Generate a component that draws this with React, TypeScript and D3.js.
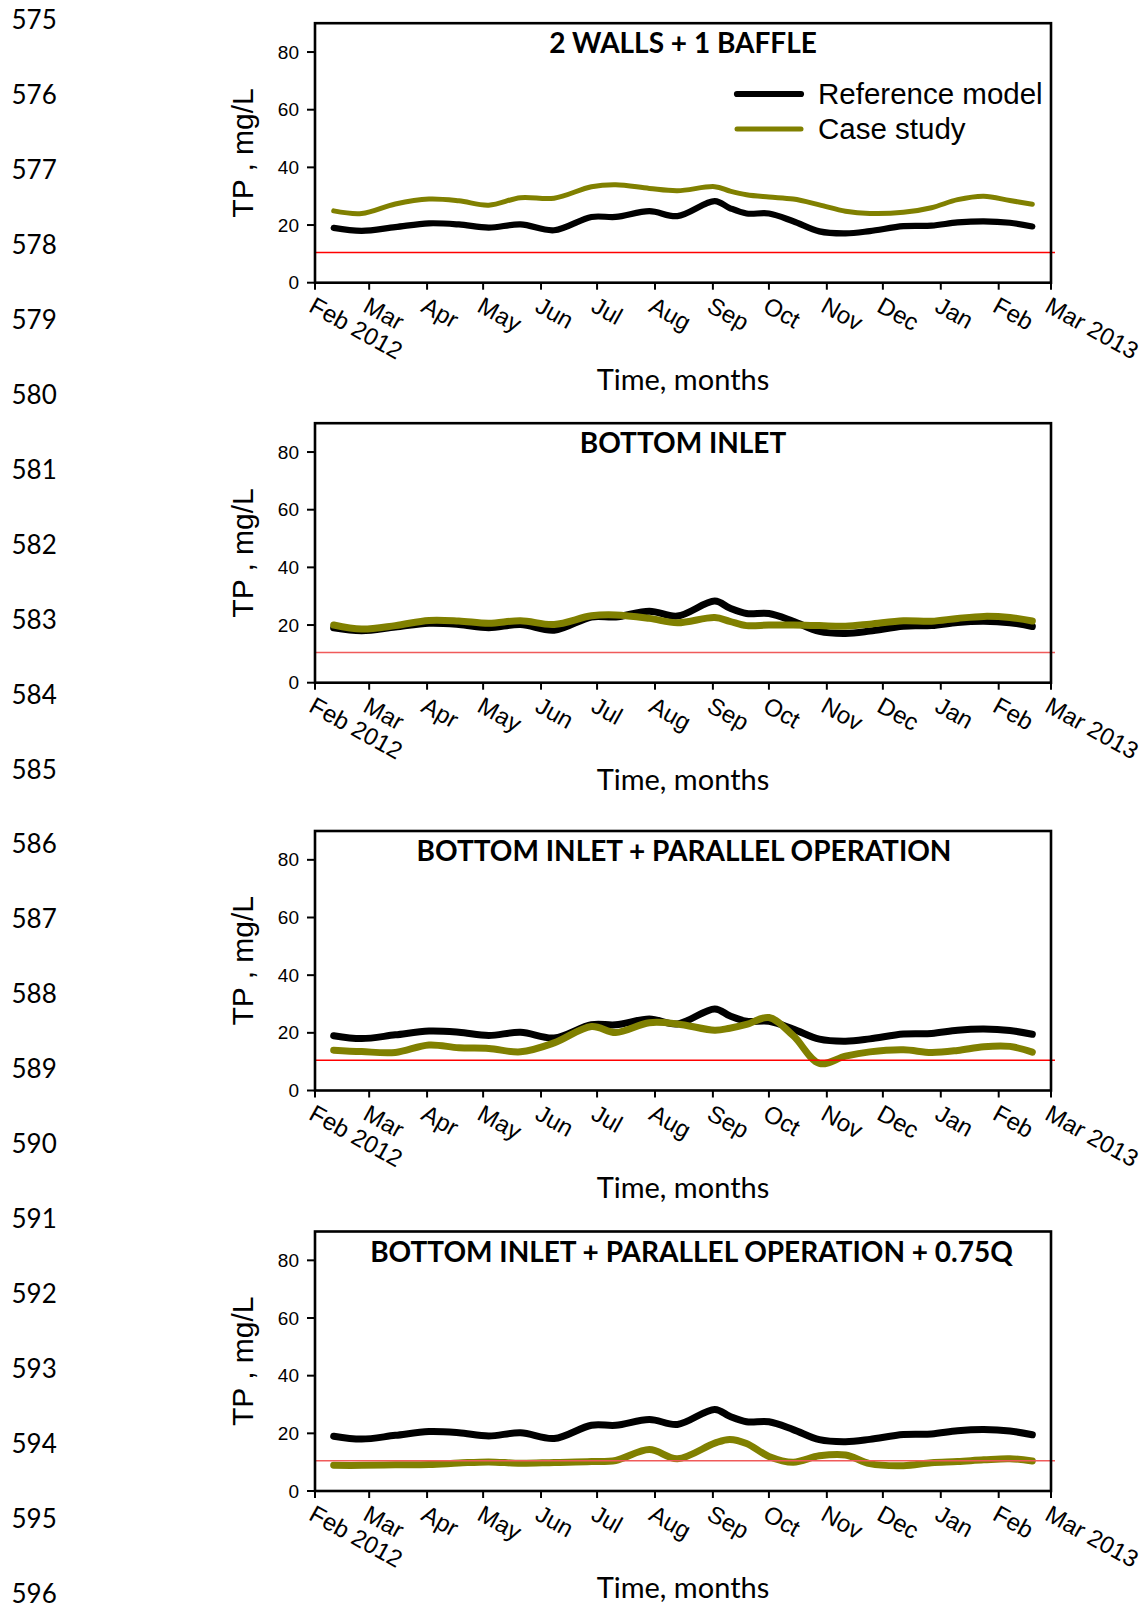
import React from "react";
import * as d3 from "d3";

// ---------- DATA ----------
const sampleDates = [
  "2012-02-11", "2012-02-26", "2012-03-15", "2012-04-02", "2012-04-18", "2012-05-04",
  "2012-05-21", "2012-06-08", "2012-06-28", "2012-07-11", "2012-07-29", "2012-08-13",
  "2012-09-02", "2012-09-10", "2012-09-19", "2012-10-01", "2012-10-14", "2012-10-28",
  "2012-11-11", "2012-11-24", "2012-12-12", "2012-12-27", "2013-01-10", "2013-01-24",
  "2013-02-07", "2013-02-19",
];
const referenceModel = [
  19.0, 18.0, 19.3, 20.6, 20.2, 19.1, 20.2, 18.2, 22.8, 22.8, 24.8, 23.1, 28.3, 25.9,
  24.0, 24.0, 21.3, 17.8, 17.1, 17.9, 19.6, 19.8, 20.9, 21.3, 20.8, 19.5,
];
const caseWallsBaffle = [
  24.9, 24.0, 27.3, 29.0, 28.4, 26.9, 29.5, 29.3, 33.3, 34.0, 32.7, 31.9, 33.3, 31.8,
  30.5, 29.7, 29.0, 27.0, 24.8, 24.0, 24.4, 26.0, 28.8, 30.0, 28.5, 27.2,
];
const caseBottomInlet = [
  20.0, 18.6, 19.8, 21.6, 21.4, 20.6, 21.5, 20.2, 23.2, 23.5, 22.3, 20.8, 22.6, 21.3,
  19.8, 20.0, 20.0, 19.8, 19.6, 20.3, 21.5, 21.3, 22.3, 23.0, 22.6, 21.4,
];
const caseParallel = [
  14.0, 13.5, 13.2, 15.8, 14.8, 14.6, 13.4, 16.5, 22.2, 20.1, 23.5, 23.1, 20.9, 21.6,
  22.9, 25.3, 19.0, 9.4, 11.9, 13.4, 14.1, 13.2, 13.9, 15.2, 15.3, 13.3,
];
const caseParallel075Q = [
  8.9, 8.9, 9.1, 9.2, 9.7, 10.1, 9.6, 9.9, 10.2, 10.6, 14.4, 11.2, 16.6, 17.9,
  16.5, 12.0, 10.0, 12.2, 12.5, 9.5, 8.8, 9.8, 10.2, 10.8, 11.2, 10.4,
];
const panelTitles = [
  "2 WALLS + 1 BAFFLE",
  "BOTTOM INLET",
  "BOTTOM INLET + PARALLEL OPERATION",
  "BOTTOM INLET + PARALLEL OPERATION + 0.75Q",
];
const monthTickLabels = [
  "Feb 2012", "Mar", "Apr", "May", "Jun", "Jul", "Aug", "Sep", "Oct", "Nov", "Dec",
  "Jan", "Feb", "Mar 2013",
];
const yTickValues = [0, 20, 40, 60, 80];
const seriesNames = ["Reference model", "Case study"];
const limitTP = 10.5;
const lineNumbers = d3.range(575, 597);

// ---------- LAYOUT ----------
const W = 1143;
const H = 1604;
const LEFT = 315;
const RIGHT = 1051;
const PANEL_H = 259.5;
const panelTops = [23.2, 423.2, 831, 1231.5];
const titleShift = [0, 0, 1, 8.5];
const caseSeries = [caseWallsBaffle, caseBottomInlet, caseParallel, caseParallel075Q];
const OLIVE = "#808000";

const parse = d3.timeParse("%Y-%m-%d");
const dates = sampleDates.map((s) => parse(s) as Date);
const x = d3.scaleTime().domain([new Date(2012, 1, 1), new Date(2013, 2, 1)]).range([LEFT, RIGHT]);
const monthTicks = d3.timeMonth.range(new Date(2012, 1, 1), new Date(2013, 2, 2));

function Panel({ idx }: { idx: number }) {
  const top = panelTops[idx];
  const bottom = top + PANEL_H;
  const y = d3.scaleLinear().domain([0, 90]).range([bottom, top]);
  const line = d3
    .line<number>()
    .x((_, i) => x(dates[i]))
    .y((v) => y(v))
    .curve(d3.curveCatmullRom.alpha(0.5));
  const first = idx === 0;
  const wBlack = first ? 6.2 : 7;
  const wOlive = first ? 5 : 7;
  const redColor = idx === 1 || idx === 3 ? "#f05a5a" : "#ff0000";
  const cy = (top + bottom) / 2;
  return (
    <g>
      {/* data */}
      <path d={line(referenceModel) || ""} fill="none" stroke="#000" strokeWidth={wBlack} strokeLinecap="round" strokeLinejoin="round" />
      <path d={line(caseSeries[idx]) || ""} fill="none" stroke={OLIVE} strokeWidth={wOlive} strokeLinecap="round" strokeLinejoin="round" />
      {/* limit line */}
      <line x1={LEFT} x2={RIGHT + 4} y1={y(limitTP)} y2={y(limitTP)} stroke={redColor} strokeWidth={1.4} />
      {/* frame */}
      <rect x={LEFT} y={top} width={RIGHT - LEFT} height={PANEL_H} fill="none" stroke="#000" strokeWidth={2.6} />
      {/* y ticks */}
      {yTickValues.map((t) => (
        <g key={t}>
          <line x1={LEFT - 8} x2={LEFT} y1={y(t)} y2={y(t)} stroke="#000" strokeWidth={2} />
          <text x={LEFT - 16} y={y(t)} dy="0.35em" textAnchor="end" fontFamily="Liberation Sans, Arial, sans-serif" fontSize={19} fill="#000">
            {t}
          </text>
        </g>
      ))}
      {/* x ticks */}
      {monthTicks.map((d, i) => (
        <g key={i}>
          <line x1={x(d)} x2={x(d)} y1={bottom} y2={bottom + 7} stroke="#000" strokeWidth={2} />
          <text
            transform={`translate(${x(d) + 1},${bottom + 13}) rotate(29)`}
            dy="0.72em"
            fontFamily="Liberation Sans, Arial, sans-serif"
            fontSize={24}
            fill="#000"
          >
            {monthTickLabels[i]}
          </text>
        </g>
      ))}
      {/* title */}
      <text x={(LEFT + RIGHT) / 2 + titleShift[idx]} y={top + 30} textAnchor="middle" fontFamily="Lato, sans-serif" fontWeight={700} fontSize={28} fill="#000">
        {panelTitles[idx]}
      </text>
      {/* axis titles */}
      <text transform={`translate(253,${cy}) rotate(-90)`} textAnchor="middle" fontFamily="Liberation Sans, Arial, sans-serif" fontSize={30} fill="#000">
        TP , mg/L
      </text>
      <text x={(LEFT + RIGHT) / 2} y={bottom + 107.3} textAnchor="middle" fontFamily="Lato, sans-serif" fontSize={29} fill="#000">
        Time, months
      </text>
      {/* legend */}
      {first && (
        <g>
          <line x1={737} x2={801} y1={94} y2={94} stroke="#000" strokeWidth={6.2} strokeLinecap="round" />
          <line x1={737} x2={801} y1={129} y2={129} stroke={OLIVE} strokeWidth={5} strokeLinecap="round" />
          <text x={818} y={104.3} fontFamily="Liberation Sans, Arial, sans-serif" fontSize={29.5} fill="#000">
            {seriesNames[0]}
          </text>
          <text x={818} y={139} fontFamily="Liberation Sans, Arial, sans-serif" fontSize={29.5} fill="#000">
            {seriesNames[1]}
          </text>
        </g>
      )}
    </g>
  );
}

export default function App() {
  return (
    <svg
      width={W}
      height={H}
      viewBox={`0 0 ${W} ${H}`}
      style={{ position: "absolute", left: 0, top: 0, background: "#fff" }}
    >
      <rect x={0} y={0} width={W} height={H} fill="#fff" />
      {lineNumbers.map((n, i) => (
        <text key={n} x={11.5} y={29.3 + i * 74.92} fontFamily="Lato, sans-serif" fontSize={26} fill="#000">
          {n}
        </text>
      ))}
      {panelTitles.map((_, i) => (
        <Panel key={i} idx={i} />
      ))}
    </svg>
  );
}
